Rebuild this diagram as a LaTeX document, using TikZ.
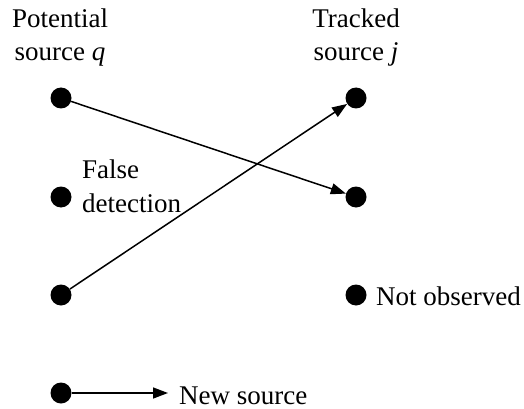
\documentclass[tikz,border=0pt]{standalone}
\usepackage{fontspec}
\setmainfont{Liberation Serif}
\usetikzlibrary{arrows.meta}
\begin{document}
\begin{tikzpicture}[x=1pt,y=-1pt,
  dot/.style={circle,fill=black,inner sep=0pt,minimum size=21pt},
  lbl/.style={inner sep=0pt,font=\fontsize{27}{33.5}\selectfont},
  conn/.style={line width=1.5pt,-{Triangle[length=15pt,width=11pt]}}]
\useasboundingbox (0,0) rectangle (524,409);
% left column
\node[dot] (q1) at (61,98) {};
\node[dot] (q2) at (61,197) {};
\node[dot] (q3) at (61,295) {};
\node[dot] (q4) at (61,393) {};
% right column
\node[dot] (j1) at (356,98) {};
\node[dot] (j2) at (356,197) {};
\node[dot] (j3) at (356,295) {};
% labels (base anchor = last line's baseline)
\node[lbl,align=center,anchor=base] (tq) at (60,61) {Potential\\source \textit{q}};
\node[lbl,align=center,anchor=base] (tj) at (356,61) {Tracked\\source \textit{j}};
\node[lbl,align=left,anchor=base west] (tf) at (82,212) {False\\detection};
\node[lbl,anchor=base west] (tn) at (376,305) {Not observed};
\coordinate (e) at (168,393);
\node[lbl,anchor=base west] (ts) at (179,404) {New source};
% connectors
\draw[conn] (q1) -- (j2);
\draw[conn] (q3) -- (j1);
\draw[conn] (q4) -- (e);
\end{tikzpicture}
\end{document}
